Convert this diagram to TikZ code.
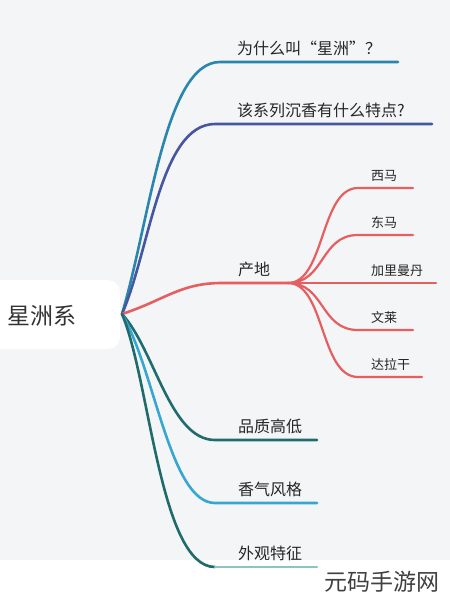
\documentclass[tikz,border=0pt]{standalone}
\usepackage{fontspec}
\setmainfont{Noto Sans CJK SC}
\newfontfamily\cjk{Noto Sans CJK SC}
\begin{document}
\begin{tikzpicture}[x=1pt,y=-1pt,
  lbl/.style={anchor=base west,inner sep=0pt,font=\cjk\fontsize{16}{16}\selectfont,text=black!85},
  sublbl/.style={anchor=base west,inner sep=0pt,font=\cjk\fontsize{13}{13}\selectfont,text=black!85},
  br/.style={line width=2.6pt,line cap=round},
  sbr/.style={line width=2.2pt,line cap=round,color=cRed}]
\definecolor{cBg}{HTML}{F4F5F7}
\definecolor{cA}{HTML}{2A86AC}
\definecolor{cB}{HTML}{4457A0}
\definecolor{cRed}{HTML}{E55E60}
\definecolor{cD}{HTML}{1F6B6E}
\definecolor{cE}{HTML}{38A7D0}
\definecolor{cF}{HTML}{1F6A6A}
\definecolor{cFl}{HTML}{8CC4C4}
\useasboundingbox (0,0) rectangle (450,600);
\fill[cBg] (0,0) rectangle (450,600);
\fill[white] (0,560) rectangle (450,600);
% root
\fill[white,rounded corners=12pt] (-14,280) rectangle (120,349);
\node[anchor=base west,inner sep=0pt,font=\cjk\fontsize{23}{23}\selectfont,text=black!80] (root) at (7,324) {星洲系};
\coordinate (r) at (122,314);
% branch ends
\coordinate (a0) at (220,62);  \coordinate (a1) at (398,62);
\coordinate (b0) at (215,124); \coordinate (b1) at (432,124);
\coordinate (c0) at (222,283); \coordinate (c1) at (288,283);
\coordinate (d0) at (215,440); \coordinate (d1) at (317,440);
\coordinate (e0) at (215,503); \coordinate (e1) at (317,503);
\coordinate (f0) at (215,567); \coordinate (f1) at (317,567);
% curves
\draw[br,cA] (r) .. controls (150,220) and (165,62) .. (a0) -- (a1);
\draw[br,cB] (r) .. controls (150,250) and (160,124) .. (b0) -- (b1);
\draw[br,cRed] (r) .. controls (165,300) and (180,283) .. (c0) -- (c1);
\draw[br,cD] (r) .. controls (155,350) and (170,440) .. (d0) -- (d1);
\draw[br,cE] (r) .. controls (155,370) and (170,503) .. (e0) -- (e1);
\draw[br,cF] (r) .. controls (150,380) and (160,567) .. (f0);
\draw[br,cFl] (f0) -- (f1);
% labels
\node[lbl] (ta) at (237,54) {为什么叫“星洲”？};
\node[lbl] (tb) at (237,116) {该系列沉香有什么特点?};
\node[lbl] (tc) at (238,275) {产地};
\node[lbl] (td) at (238,432) {品质高低};
\node[lbl] (te) at (238,495) {香气风格};
\node[lbl] (tf) at (238,559) {外观特征};
% sub-branches
\coordinate (s1) at (358,188); \coordinate (s1e) at (413,188);
\coordinate (s2) at (358,235); \coordinate (s2e) at (413,235);
\coordinate (s3) at (358,283); \coordinate (s3e) at (436,283);
\coordinate (s4) at (358,330); \coordinate (s4e) at (413,330);
\coordinate (s5) at (358,377); \coordinate (s5e) at (422,377);
\draw[sbr] (c1) .. controls (325,283) and (320,188) .. (s1) -- (s1e);
\draw[sbr] (c1) .. controls (325,283) and (320,235) .. (s2) -- (s2e);
\draw[sbr] (c1) -- (s3e);
\draw[sbr] (c1) .. controls (325,283) and (320,330) .. (s4) -- (s4e);
\draw[sbr] (c1) .. controls (325,283) and (320,377) .. (s5) -- (s5e);
\node[sublbl] (u1) at (371,180) {西马};
\node[sublbl] (u2) at (371,227) {东马};
\node[sublbl] (u3) at (371,275) {加里曼丹};
\node[sublbl] (u4) at (371,322) {文莱};
\node[sublbl] (u5) at (371,369) {达拉干};
% watermark
\node[anchor=base west,inner sep=0pt,font=\cjk\fontsize{23}{23}\selectfont,text=black!75] (wm) at (324,590) {元码手游网};
\end{tikzpicture}
\end{document}
